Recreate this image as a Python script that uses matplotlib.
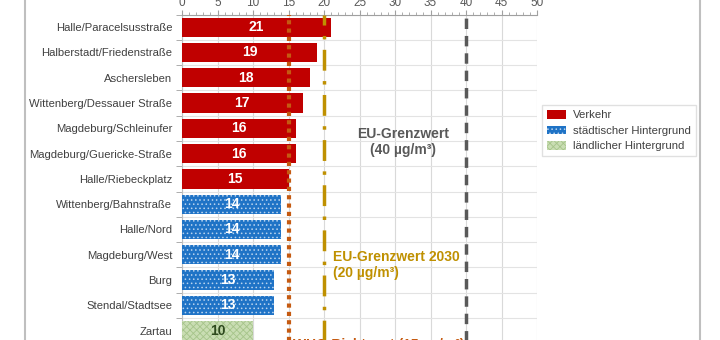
import matplotlib
matplotlib.use("Agg")
import matplotlib.pyplot as plt
from matplotlib.patches import Patch
from matplotlib.lines import Line2D
import numpy as np

plt.rcParams['font.family'] = ['Liberation Sans', 'DejaVu Sans']
plt.rcParams['hatch.linewidth'] = 0.6

stations = ["Halle/Paracelsusstraße", "Halberstadt/Friedenstraße", "Aschersleben",
            "Wittenberg/Dessauer Straße", "Magdeburg/Schleinufer", "Magdeburg/Guericke-Straße",
            "Halle/Riebeckplatz", "Wittenberg/Bahnstraße", "Halle/Nord", "Magdeburg/West",
            "Burg", "Stendal/Stadtsee", "Zartau"]
values = [21, 19, 18, 17, 16, 16, 15, 14, 14, 14, 13, 13, 10]
kinds = ["Verkehr"] * 7 + ["städtischer Hintergrund"] * 5 + ["ländlicher Hintergrund"]
x_ticks = [0, 5, 10, 15, 20, 25, 30, 35, 40, 45, 50]
who_limit = 15
eu_2030 = 20
eu_limit = 40

styles = {
    "Verkehr": dict(color="#C00000", hatch=None, edge="#C00000", txt="white"),
    "städtischer Hintergrund": dict(color="#1F73C6", hatch="....", edge="#B9D3EE", txt="white"),
    "ländlicher Hintergrund": dict(color="#C9DDB3", hatch="xxxxx", edge="#A6C48A", txt="#2E4A1E"),
}

fig = plt.figure(figsize=(7.2, 3.4), dpi=100)
W, H = 720, 340
left_px, right_px, top_px = 182, 537, 14.5
row_px = 25.33
ytop, ybot = -0.48, 12.8
ax_h = (ybot - ytop) * row_px
ax = fig.add_axes([left_px / W, 1 - (top_px + ax_h) / H, (right_px - left_px) / W, ax_h / H])

y = np.arange(len(stations))
for i, (v, k) in enumerate(zip(values, kinds)):
    s = styles[k]
    ax.barh(i, v, height=0.76, color=s["color"], hatch=s["hatch"], edgecolor=s["edge"],
            linewidth=0, zorder=3)
    ax.text(v / 2, i, str(v), ha="center", va="center", color=s["txt"],
            fontsize=10, fontweight="bold", zorder=5)

ax.set_xlim(0, 50)
ax.set_ylim(ybot, ytop)
ax.xaxis.tick_top()
ax.set_xticks(x_ticks)
ax.set_xticks(np.arange(0, 51, 1), minor=True)
ax.tick_params(axis="x", which="major", length=3.5, color="#A0A0A0", labelsize=8.5,
               labelcolor="#595959", pad=0.5)
ax.tick_params(axis="x", which="minor", length=2, color="#A0A0A0")
ax.set_yticks(y)
ax.set_yticklabels(stations)
ax.set_yticks(np.arange(-0.5, 13, 1), minor=True)
ax.tick_params(axis="y", which="major", length=0, labelsize=8.1, labelcolor="#404040", pad=7)
ax.tick_params(axis="y", which="minor", length=4, color="#A0A0A0")

ax.grid(axis="x", which="major", color="#D9D9D9", linewidth=0.8, zorder=0)
ax.grid(axis="y", which="minor", color="#E3E3E3", linewidth=0.8, zorder=0)
for sp in ["right", "bottom"]:
    ax.spines[sp].set_visible(False)
ax.spines["top"].set_color("#A0A0A0")
ax.spines["left"].set_color("#BFBFBF")

ax.axvline(who_limit, color="#C55A11", linestyle=(0, (1, 1)), linewidth=3, zorder=4)
ax.axvline(eu_2030, color="#BF9000", linestyle=(0, (6, 3, 1, 3)), linewidth=2.5, zorder=4)
ax.axvline(eu_limit, color="#595959", linestyle=(0, (3, 2)), linewidth=2.5, zorder=4)

ax.text(31.1, 4.55, "EU-Grenzwert\n(40 µg/m³)", ha="center", va="center",
        fontsize=10, fontweight="bold", color="#595959", linespacing=1.2)
ax.text(21.3, 9.4, "EU-Grenzwert 2030\n(20 µg/m³)", ha="left", va="center",
        fontsize=10, fontweight="bold", color="#BF9000", linespacing=1.2)
ax.text(15.6, 12.55, "WHO-Richtwert (15 µg/m³)", ha="left", va="center",
        fontsize=10, fontweight="bold", color="#C55A11", clip_on=False)

handles = [Patch(facecolor=styles[k]["color"], hatch=styles[k]["hatch"],
                 edgecolor=styles[k]["edge"], linewidth=0, label=k)
           for k in ["Verkehr", "städtischer Hintergrund", "ländlicher Hintergrund"]]
leg = fig.legend(handles=handles, loc="upper left",
                 bbox_to_anchor=(542 / W, 1 - 105 / H), frameon=True, fontsize=8.2,
                 handlelength=1.7, handleheight=0.8, handletextpad=0.6, borderpad=0.45,
                 labelspacing=0.45, borderaxespad=0,
                 fancybox=False, edgecolor="#D9D9D9")
for t in leg.get_texts():
    t.set_color("#404040")

fig.add_artist(Line2D([25 / W, 25 / W], [0, 1], color="#BFBFBF", linewidth=1.5))
fig.add_artist(Line2D([700 / W, 700 / W], [0, 1], color="#BFBFBF", linewidth=1.5))

fig.savefig("out.png", dpi=100)
